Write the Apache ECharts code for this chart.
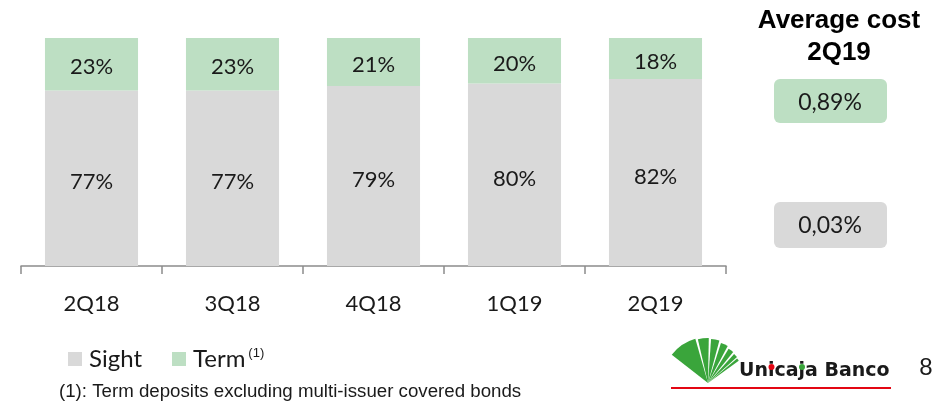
<!DOCTYPE html>
<html>
<head>
<meta charset="utf-8">
<script src="https://cdn.jsdelivr.net/npm/echarts@6/dist/echarts.min.js"></script>
<style>
  html,body{margin:0;padding:0;background:#fff;}
  #main{width:936px;height:402px;}
</style>
</head>
<body>
<div id="main"></div>
<script>
var quarters=['2Q18','3Q18','4Q18','1Q19','2Q19'];
var sight=[77,77,79,80,82];
var term=[23,23,21,20,18];
var avgCostTitle=['Average cost','2Q19'];
var avgCostTerm='0,89%';
var avgCostSight='0,03%';

var GREEN='#bddfc3';
var GREY='#d9d9d9';
var LABEL_FONT='Lato, "Open Sans", sans-serif';

// logo fan: one sector per finger [start, end, radius], degrees in screen coords
function fan(){
	var cx=708, cy=383;
	var fingers=[[-142,-106,46],[-103,-89,45],[-86,-75,44],[-72,-62,42],[-59,-51,40],[-48,-42,39],[-40,-36,38]];
	var out=[];
	for(var i=0;i<fingers.length;i++){
		out.push({
			type:'sector',
			shape:{cx:cx,cy:cy,r0:0,r:fingers[i][2],startAngle:fingers[i][0]*Math.PI/180,endAngle:fingers[i][1]*Math.PI/180},
			style:{fill:'#3aa53b'}
		});
	}
	return out;
}

function init(){
	var myChart=echarts.init(document.getElementById('main'));
	var option={
		animation:false,
		grid:{left:21,right:210,top:38,bottom:136},
		legend:{
			left:63,
			top:342,
			itemWidth:14,
			itemHeight:14,
			itemGap:30,
			icon:'rect',
			data:['Sight','Term'],
			formatter:function(name){
				return name=='Term' ? '{a|Term}{s|(1)}' : '{a|'+name+'}';
			},
			textStyle:{
				padding:[0,0,0,2],
				rich:{
					a:{fontFamily:LABEL_FONT,fontSize:24,color:'#1a1a1a'},
					s:{fontFamily:'Arial, "Liberation Sans", sans-serif',fontSize:13,color:'#1a1a1a',verticalAlign:'top',padding:[0,0,10,3]}
				}
			}
		},
		xAxis:{
			type:'category',
			data:quarters,
			axisLine:{lineStyle:{color:'#8c8c8c',width:1.5}},
			axisTick:{show:true,length:8,lineStyle:{color:'#8c8c8c',width:1.5}},
			axisLabel:{fontFamily:LABEL_FONT,fontSize:22,color:'#1a1a1a',margin:27}
		},
		yAxis:{
			type:'value',
			min:0,
			max:100,
			show:false
		},
		series:[
			{
				name:'Sight',
				type:'bar',
				stack:'total',
				barWidth:'66%',
				data:sight,
				itemStyle:{color:GREY},
				label:{show:true,position:'inside',offset:[0,4],formatter:'{c}%',fontFamily:LABEL_FONT,fontSize:22,color:'#1a1a1a'}
			},
			{
				name:'Term',
				type:'bar',
				stack:'total',
				data:term,
				itemStyle:{color:GREEN},
				label:{show:true,position:'inside',offset:[0,3],formatter:'{c}%',fontFamily:LABEL_FONT,fontSize:22,color:'#1a1a1a'}
			}
		],
		graphic:[
			{type:'text',x:839,y:21,style:{text:avgCostTitle[0],font:'bold 26px Arial, "Liberation Sans", sans-serif',fill:'#000',textAlign:'center',textVerticalAlign:'middle'}},
			{type:'text',x:839,y:53,style:{text:avgCostTitle[1],font:'bold 26px Arial, "Liberation Sans", sans-serif',fill:'#000',textAlign:'center',textVerticalAlign:'middle'}},
			{type:'rect',shape:{x:774,y:79,width:113,height:44,r:6},style:{fill:GREEN}},
			{type:'text',x:830,y:103,style:{text:avgCostTerm,font:'23px '+LABEL_FONT,fill:'#1a1a1a',textAlign:'center',textVerticalAlign:'middle'}},
			{type:'rect',shape:{x:774,y:202,width:113,height:46,r:6},style:{fill:GREY}},
			{type:'text',x:830,y:226,style:{text:avgCostSight,font:'23px '+LABEL_FONT,fill:'#1a1a1a',textAlign:'center',textVerticalAlign:'middle'}},
			{type:'text',x:59,y:392,style:{text:'(1): Term deposits excluding multi-issuer covered bonds',font:'18.7px Arial, "Liberation Sans", sans-serif',fill:'#1a1a1a',textVerticalAlign:'middle'}},
			{type:'group',children:fan()},
			{type:'text',x:739,y:381,style:{text:'Unicaja Banco',font:'bold 19px "DejaVu Sans", Arial, sans-serif',fill:'#1a1a1a',textVerticalAlign:'bottom'}},
			{type:'circle',shape:{cx:771.5,cy:367,r:3},style:{fill:'#e30613'}},
			{type:'circle',shape:{cx:802,cy:367,r:3},style:{fill:'#3aa53b'}},
			{type:'line',shape:{x1:671,y1:388,x2:891,y2:388},style:{stroke:'#e30613',lineWidth:2}},
			{type:'text',x:926,y:368,style:{text:'8',font:'24px Arial, "Liberation Sans", sans-serif',fill:'#1a1a1a',textAlign:'center',textVerticalAlign:'middle'}}
		]
	};
	myChart.setOption(option);
}
init();
</script>
</body>
</html>
